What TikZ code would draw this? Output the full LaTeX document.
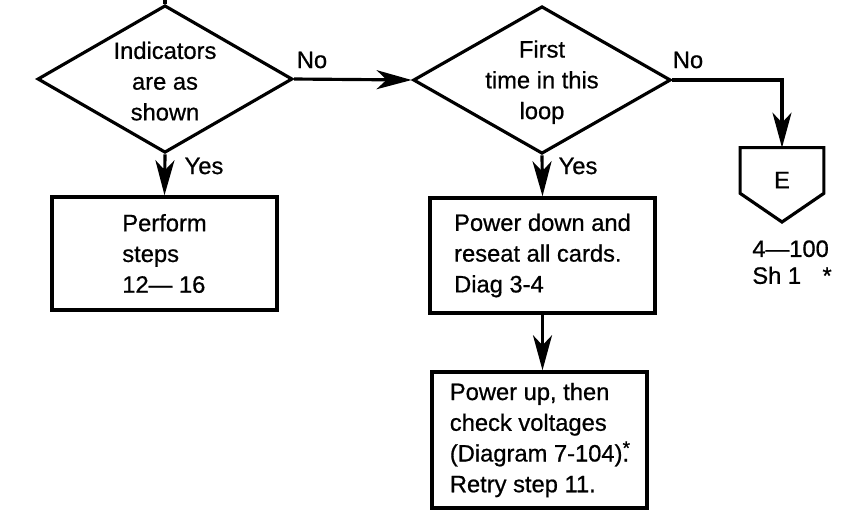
\documentclass[tikz,border=0pt]{standalone}
\usepackage{fontspec}
\setmainfont{Liberation Sans}
\newfontface\medium{Liberation Sans}[FakeBold=0.7, Ligatures=TeX]
\usepackage{tikz}
\usetikzlibrary{arrows.meta,shapes.geometric}
\newcommand{\fsz}{\medium\fontsize{13.5}{17.5}\selectfont}
\newcommand{\fszref}{\medium\fontsize{13.5}{15.3}\selectfont}
\tikzset{
  dec/.style={diamond, draw, line width=1.8pt, align=center, aspect=1.75,
              inner sep=-1pt, minimum width=5.1cm, minimum height=2.95cm, font=\fsz},
  proc/.style={rectangle, draw, line width=2pt, align=left, font=\fsz},
  offpage/.style={rectangle, inner sep=0pt, minimum width=1.66cm, minimum height=0.9cm},
  flow/.style={-{Stealth[length=7mm,width=3.8mm,inset=2mm]}, line width=1.8pt},
  plain/.style={line width=1.8pt},
  lbl/.style={font=\fsz, inner sep=0pt},
}

\begin{document}
\begin{tikzpicture}[x=0.02cm, y=-0.02cm]
  \useasboundingbox (0,0) rectangle (849,529);
  % decisions
  \node[dec] (ind)   at (165,79)  {\strut Indicators\\are as\\shown};
  \node[dec] (first) at (542,80)  {\strut First\\time in this\\loop};
  % actions
  \node[proc, minimum width=4.5cm, minimum height=2.26cm] (perf)   at (164.5,253.5) {Perform\\steps\\12--- 16};
  \node[proc, minimum width=4.5cm, minimum height=2.3cm]  (reseat) at (542.5,255.5) {Power down and\\reseat all cards.\\Diag 3-4};
  \node[proc, minimum width=4.3cm, minimum height=2.72cm] (volt)   at (539.5,440)   {Power up, then\\check voltages\\(Diagram 7-104)\makebox[0pt][l]{\raisebox{0.55ex}{\fontsize{11}{11}\selectfont*}}.\\Retry step 11.};
  % off-page connector
  \node[offpage] (offpg) at (782,170.5) {};
  \draw[plain, line join=miter] (offpg.north west) -- (offpg.north east) -- (offpg.south east)
    -- (782,222) -- (offpg.south west) -- cycle;
  \node[lbl] (offE) at (782,180) {E};
  \node[lbl, align=left, anchor=north west, font=\fszref] (offref) at (752,240) {4---100\\Sh 1\hspace{0.9em}*};
  \coordinate (entry) at (165,0);

  % branch labels
  \node[lbl] (ndno)   at (312,60)  {No};
  \node[lbl] (ndyes)  at (204,166) {Yes};
  \node[lbl] (ftno)   at (688,60)  {No};
  \node[lbl] (ftyes)  at (578,166) {Yes};

  % connectors
  \draw[plain] (entry) -- (ind.north);
  \draw[flow] (ind.east) -- (first.west);
  \draw[flow] (ind.south) -- (perf.north);
  \draw[flow] (first.south) -- (reseat.north);
  \draw[flow] (first.east) -| (offpg.north);
  \draw[flow] (reseat.south) -- (reseat.south |- volt.north);
\end{tikzpicture}
\end{document}
